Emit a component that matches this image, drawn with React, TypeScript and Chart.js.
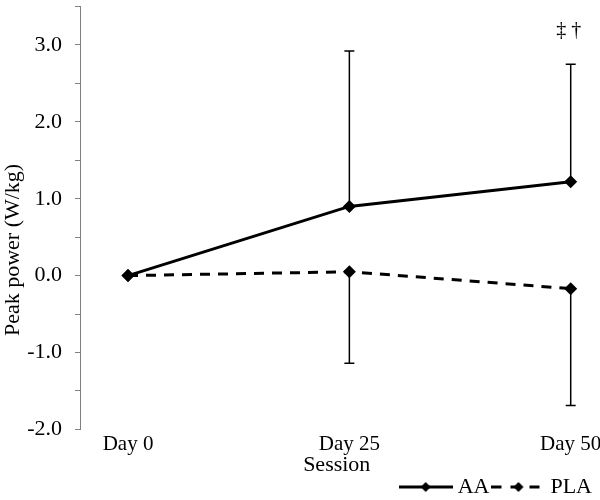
import React, { useEffect, useRef } from 'react';
import { Chart, registerables } from 'chart.js';

Chart.register(...registerables);

const categories = ['Day 0', 'Day 25', 'Day 50'];
const aaMeans = [0, 0.9, 1.22];
const aaUpper: (number | null)[] = [null, 2.92, 2.75];
const plaMeans = [0, 0.05, -0.17];
const plaLower: (number | null)[] = [null, -1.14, -1.69];
const yLabelValues = [-2, -1, 0, 1, 2, 3];
const seriesNames = ['AA', 'PLA'];
const annotationText = '‡ †';
const yTitle = 'Peak power (W/kg)';

const FONT = "'Liberation Serif', 'Times New Roman', serif";

function makeLegendSymbol(dashed: boolean): HTMLCanvasElement {
  const c = document.createElement('canvas');
  c.width = 54;
  c.height = 14;
  const ctx = c.getContext('2d')!;
  ctx.strokeStyle = '#000';
  ctx.fillStyle = '#000';
  ctx.lineWidth = 3;
  if (dashed) ctx.setLineDash([10, 9]);
  ctx.beginPath();
  ctx.moveTo(0, 7);
  ctx.lineTo(54, 7);
  ctx.stroke();
  ctx.setLineDash([]);
  ctx.beginPath();
  ctx.moveTo(27, 2);
  ctx.lineTo(32, 7);
  ctx.lineTo(27, 12);
  ctx.lineTo(22, 7);
  ctx.closePath();
  ctx.fill();
  return c;
}

const errorBarPlugin = {
  id: 'errorBars',
  beforeDatasetsDraw(chart: any) {
    const { ctx, scales } = chart;
    const xs = scales.x;
    const ys = scales.y;
    ctx.save();
    ctx.strokeStyle = '#000';
    ctx.lineWidth = 1.5;
    const draw = (means: number[], ends: (number | null)[]) => {
      means.forEach((m, i) => {
        const e = ends[i];
        if (e === null || e === undefined) return;
        const px = xs.getPixelForValue(i);
        const y0 = ys.getPixelForValue(m);
        const y1 = ys.getPixelForValue(e);
        ctx.beginPath();
        ctx.moveTo(px, y0);
        ctx.lineTo(px, y1);
        ctx.moveTo(px - 5, y1);
        ctx.lineTo(px + 5, y1);
        ctx.stroke();
      });
    };
    draw(aaMeans, aaUpper);
    draw(plaMeans, plaLower);
    ctx.restore();
  },
  afterDatasetsDraw(chart: any) {
    const { ctx, scales, chartArea } = chart;
    const last = categories.length - 1;
    const px = scales.x.getPixelForValue(last);
    const top = scales.y.getPixelForValue(aaUpper[last] as number);
    ctx.save();
    ctx.fillStyle = '#000';
    ctx.font = `20px ${FONT}`;
    ctx.textAlign = 'center';
    ctx.textBaseline = 'middle';
    ctx.fillText(annotationText, px - 2, top - 33);
    // y-axis title
    ctx.font = `22px ${FONT}`;
    ctx.translate(13, (chartArea.top + chartArea.bottom) / 2 + 32);
    ctx.rotate(-Math.PI / 2);
    ctx.fillText(yTitle, 0, 0);
    ctx.restore();
  },
};

export default function App() {
  const ref = useRef<HTMLCanvasElement>(null);
  useEffect(() => {
    document.body.style.margin = '0';
    const symbols = [makeLegendSymbol(false), makeLegendSymbol(true)];
    const chart = new Chart(ref.current!, {
      type: 'line',
      data: {
        datasets: [
          {
            label: seriesNames[0],
            data: aaMeans.map((v, i) => ({ x: i, y: v })),
            borderColor: '#000',
            backgroundColor: '#000',
            borderWidth: 3,
            pointStyle: 'rectRot',
            pointRadius: 6.5,
            pointBackgroundColor: '#000',
            pointBorderColor: '#000',
            pointBorderWidth: 0,
          },
          {
            label: seriesNames[1],
            data: plaMeans.map((v, i) => ({ x: i, y: v })),
            borderColor: '#000',
            backgroundColor: '#000',
            borderWidth: 3,
            borderDash: [10, 8],
            pointStyle: 'rectRot',
            pointRadius: 6.5,
            pointBackgroundColor: '#000',
            pointBorderColor: '#000',
            pointBorderWidth: 0,
          },
        ],
      },
      options: {
        animation: false,
        responsive: false,
        layout: { padding: { top: 0, right: 0, left: 2, bottom: -8 } },
        plugins: {
          tooltip: { enabled: false },
          legend: {
            position: 'bottom',
            align: 'end',
            labels: {
              usePointStyle: true,
              pointStyleWidth: 42,
              padding: 8,
              color: '#000',
              font: { family: FONT, size: 22 },
              generateLabels: () =>
                seriesNames.map((n, i) => ({
                  text: n,
                  pointStyle: symbols[i] as any,
                  fillStyle: '#000',
                  strokeStyle: '#000',
                  lineWidth: 0,
                  datasetIndex: i,
                  hidden: false,
                })),
            },
          },
        },
        scales: {
          x: {
            type: 'linear',
            min: -0.217,
            max: 2.103,
            grid: { display: false },
            border: { display: false },
            afterBuildTicks: (scale: any) => {
              scale.ticks = categories.map((_, i) => ({ value: i }));
            },
            afterFit: (scale: any) => {
              scale.paddingLeft = 0;
              scale.paddingRight = 0;
            },
            ticks: {
              color: '#000',
              font: { family: FONT, size: 21 },
              padding: -6,
              maxRotation: 0,
              autoSkip: false,
              callback: (v: any) => categories[Math.round(Number(v))] ?? '',
            },
            title: {
              display: true,
              text: 'Session',
              color: '#000',
              font: { family: FONT, size: 22 },
              padding: { top: 1, bottom: -10 },
            },
          },
          y: {
            min: -2,
            max: 3.5,
            afterFit: (scale: any) => {
              scale.width = 78;
              scale.paddingTop = 0;
              scale.paddingBottom = 0;
            },
            grid: {
              drawOnChartArea: false,
              drawTicks: true,
              tickLength: 5,
              color: '#808080',
            },
            border: { display: true, color: '#808080', width: 1 },
            ticks: {
              stepSize: 0.5,
              color: '#000',
              font: { family: FONT, size: 22 },
              padding: 13,
              autoSkip: false,
              callback: (v: any) => {
                const n = Number(v);
                return yLabelValues.includes(n) ? n.toFixed(1) : '';
              },
            },
            title: { display: false },
          },
        },
      },
      plugins: [errorBarPlugin],
    } as any);
    return () => chart.destroy();
  }, []);
  return <canvas ref={ref} width={600} height={500} style={{ display: 'block' }} />;
}
